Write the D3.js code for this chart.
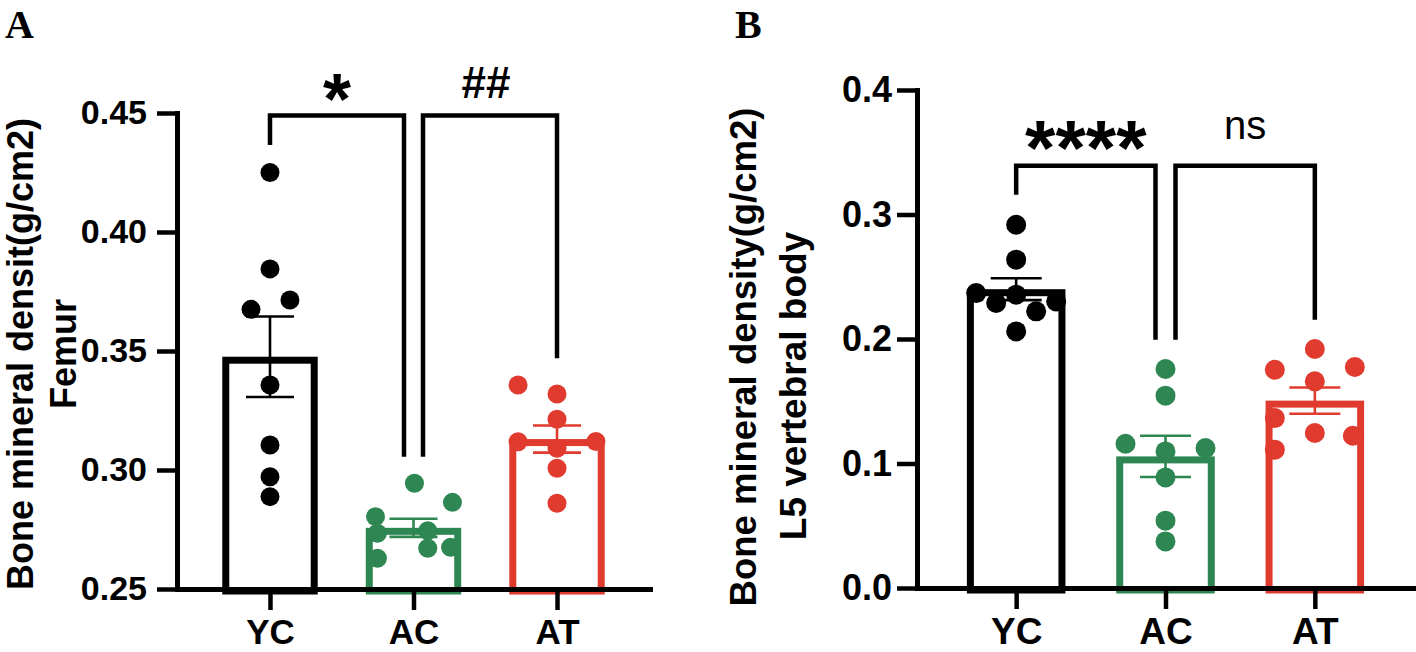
<!DOCTYPE html>
<html>
<head>
<meta charset="utf-8">
<script src="https://cdn.jsdelivr.net/npm/d3@7/dist/d3.min.js"></script>
<style>
  html, body { margin: 0; padding: 0; background: #fff; }
  svg { display: block; }
</style>
</head>
<body>
<svg id="chart" width="1416" height="652"></svg>
<script>
// ---------- data ----------
const categories = ["YC", "AC", "AT"];
const groupColors = ["#000000", "#2e8652", "#e03b2e"];

// Panel A: femur BMD (g/cm2)
const femurYC = [0.425, 0.3845, 0.3714, 0.3675, 0.3357, 0.3105, 0.2972, 0.2888];
const femurAC = [0.2944, 0.2864, 0.2804, 0.2745, 0.2734, 0.2671, 0.2675, 0.2629];
const femurAT = [0.3357, 0.3319, 0.3213, 0.3119, 0.3120, 0.3091, 0.3007, 0.2860];
const femurJitterYC = [0, 0, 1.05, -1, 0, 0, 0, 0];
const femurJitterAC = [0.05, 2.05, -2, 0.75, -1.9, 0.75, 1.95, -1.9];
const femurJitterAT = [-2.05, 0, 0, -2.05, 2.05, 0, 0, 0];
const femurMean = [0.3476, 0.2757, 0.3130];
const femurSEM = [0.0169, 0.0038, 0.0057];
const femurTicks = [0.25, 0.30, 0.35, 0.40, 0.45];
const femurTickLabels = ["0.25", "0.30", "0.35", "0.40", "0.45"];
const femurBrackets = [
  { from: 0, to: 1, top: 0.449, leftEnd: 0.4366, rightEnd: 0.3056, label: "*" },
  { from: 1, to: 2, top: 0.449, leftEnd: 0.3056, rightEnd: 0.3470, label: "##" }
];

// Panel B: L5 vertebral body BMD (g/cm2)
const spineYC = [0.2918, 0.2637, 0.2369, 0.2356, 0.2289, 0.2302, 0.2222, 0.2061];
const spineAC = [0.1759, 0.1545, 0.1159, 0.1124, 0.1097, 0.0888, 0.0541, 0.0374];
const spineAT = [0.1920, 0.1753, 0.1775, 0.1660, 0.1365, 0.1245, 0.1223, 0.1111];
const spineJitterYC = [0, 0, -2, 0, -1, 2, 1, 0];
const spineJitterAC = [0, 0, -2, 2, 0, 0, 0, 0];
const spineJitterAT = [0, -2, 2, 0, -2, 0, 1.9, -2];
const spineMean = [0.2400, 0.1057, 0.1505];
const spineSEM = [0.0088, 0.0166, 0.0106];
const spineTicks = [0.0, 0.1, 0.2, 0.3, 0.4];
const spineTickLabels = ["0.0", "0.1", "0.2", "0.3", "0.4"];
const spineBrackets = [
  { from: 0, to: 1, top: 0.3392, leftEnd: 0.3159, rightEnd: 0.1994, label: "****" },
  { from: 1, to: 2, top: 0.3392, leftEnd: 0.1994, rightEnd: 0.2155, label: "ns" }
];

// ---------- drawing ----------
const SANS = '"Liberation Sans", Arial, Helvetica, sans-serif';
const SERIF = '"Liberation Serif", "Times New Roman", Times, serif';
const svg = d3.select("#chart");

function drawPanel(cfg) {
  const g = svg.append("g");
  const x = d3.scalePoint().domain(categories).range([cfg.x0, cfg.x1]).padding(cfg.pad);
  const y = d3.scaleLinear().domain(cfg.domain).range([cfg.y0, cfg.y1]);
  const step = x.step();
  const bw = step * cfg.barFrac;
  const sw = cfg.barStroke;

  // bars (stroke drawn inside the bar outline)
  g.append("g").selectAll("rect").data(categories).join("rect")
    .attr("x", (d) => x(d) - bw / 2 + sw / 2)
    .attr("y", (d, i) => y(cfg.means[i]) + sw / 2)
    .attr("width", bw - sw)
    .attr("height", (d, i) => y(cfg.domain[0]) - y(cfg.means[i]) - sw / 2 + 2)
    .attr("fill", "#fff")
    .attr("stroke", (d, i) => groupColors[i])
    .attr("stroke-width", sw);

  // points
  categories.forEach((c, i) => {
    g.append("g").selectAll("circle").data(cfg.values[i]).join("circle")
      .attr("cx", (d, j) => x(c) + cfg.jitter[i][j] * cfg.r * 2)
      .attr("cy", (d) => y(d))
      .attr("r", cfg.r)
      .attr("fill", groupColors[i]);
  });

  // error bars (mean ± SEM)
  categories.forEach((c, i) => {
    const eg = g.append("g").attr("stroke", groupColors[i]).attr("stroke-width", 2.6);
    const lo = cfg.means[i] - cfg.sems[i], hi = cfg.means[i] + cfg.sems[i];
    eg.append("line").attr("x1", x(c)).attr("x2", x(c)).attr("y1", y(lo)).attr("y2", y(hi));
    [lo, hi].forEach((v) => {
      eg.append("line").attr("x1", x(c) - cfg.cap / 2).attr("x2", x(c) + cfg.cap / 2)
        .attr("y1", y(v)).attr("y2", y(v));
    });
  });

  // axes
  const yAxis = d3.axisLeft(y).tickValues(cfg.ticks)
    .tickFormat((d, i) => cfg.tickLabels[i]).tickSize(20).tickSizeOuter(0).tickPadding(cfg.yPad);
  const ya = g.append("g").attr("transform", `translate(${cfg.x0},0)`).call(yAxis);
  const xAxis = d3.axisBottom(x).tickSize(21).tickSizeOuter(0).tickPadding(9);
  const xa = g.append("g").attr("transform", `translate(0,${cfg.y0})`).call(xAxis);
  [ya, xa].forEach((a) => {
    a.attr("font-family", SANS);
    a.select(".domain").attr("stroke", "#000").attr("stroke-width", 5).attr("stroke-linecap", "square");
    a.selectAll(".tick line").attr("stroke", "#000").attr("stroke-width", 4.5);
    a.selectAll(".tick text").attr("fill", "#000").attr("font-weight", "bold")
      .style("font-family", SANS);
  });
  ya.selectAll(".tick text").attr("font-size", cfg.yFont);
  xa.selectAll(".tick text").attr("font-size", cfg.xFont);

  // y title
  cfg.title.forEach((t) => {
    g.append("text")
      .attr("transform", `translate(${t.x},${t.cy}) rotate(-90)`)
      .attr("text-anchor", "middle")
      .style("font-family", SANS)
      .attr("font-size", t.size).attr("font-weight", "bold").attr("fill", "#000")
      .text(t.text);
  });

  // significance brackets
  cfg.brackets.forEach((b, k) => {
    const xl = x(categories[b.from]) + (k === 1 ? cfg.legGap : 0);
    const xr = x(categories[b.to]) - (k === 0 ? cfg.legGap : 0);
    g.append("path")
      .attr("d", `M${xl},${y(b.leftEnd)}V${y(b.top)}H${xr}V${y(b.rightEnd)}`)
      .attr("fill", "none").attr("stroke", "#000").attr("stroke-width", 4.5)
      .attr("stroke-linejoin", "miter");
    const lab = cfg.labelStyle[k];
    g.append("text")
      .attr("x", (xl + xr) / 2 + (lab.dx || 0)).attr("y", lab.y)
      .attr("text-anchor", "middle")
      .style("font-family", SANS)
      .attr("font-size", lab.size).attr("font-weight", lab.weight)
      .attr("fill", "#000").text(b.label);
  });

  // panel letter
  svg.append("text").attr("x", cfg.letterX).attr("y", 38)
    .style("font-family", SERIF)
    .attr("font-weight", "bold").attr("font-size", 40).attr("fill", "#000")
    .text(cfg.letter);
}

drawPanel({
  letter: "A", letterX: 5,
  x0: 177, x1: 650, pad: 0.648, y0: 589, y1: 113,
  domain: [0.25, 0.45], ticks: femurTicks, tickLabels: femurTickLabels,
  values: [femurYC, femurAC, femurAT],
  jitter: [femurJitterYC, femurJitterAC, femurJitterAT],
  means: femurMean, sems: femurSEM,
  barFrac: 0.665, barStroke: 7, r: 9.5, cap: 48, legGap: 9.5,
  yPad: 10, yFont: 34, xFont: 35,
  title: [
    { text: "Bone mineral densit(g/cm2)", x: 33, cy: 354, size: 36 },
    { text: "Femur", x: 76, cy: 354, size: 36 }
  ],
  brackets: femurBrackets,
  labelStyle: [
    { size: 72, weight: "bold", y: 124 },
    { size: 44, weight: "bold", y: 98, dx: -4 }
  ]
});

drawPanel({
  letter: "B", letterX: 735,
  x0: 917, x1: 1414, pad: 0.664, y0: 588, y1: 90,
  domain: [0, 0.4], ticks: spineTicks, tickLabels: spineTickLabels,
  values: [spineYC, spineAC, spineAT],
  jitter: [spineJitterYC, spineJitterAC, spineJitterAT],
  means: spineMean, sems: spineSEM,
  barFrac: 0.66, barStroke: 7, r: 10, cap: 51, legGap: 10,
  yPad: 5, yFont: 36, xFont: 37,
  title: [
    { text: "Bone mineral density(g/cm2)", x: 756, cy: 357, size: 36.5 },
    { text: "L5 vertebral body", x: 806, cy: 386, size: 37 }
  ],
  brackets: spineBrackets,
  labelStyle: [
    { size: 78, weight: "bold", y: 175 },
    { size: 40, weight: "normal", y: 139 }
  ]
});
</script>
</body>
</html>
